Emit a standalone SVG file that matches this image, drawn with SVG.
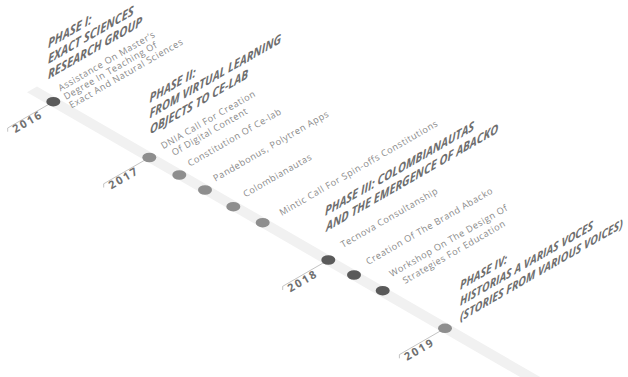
<svg xmlns="http://www.w3.org/2000/svg" width="628" height="377" viewBox="0 0 628 377">
<style>
  .band{fill:#f1f1f1}
  .title{font-family:"Open Sans",sans-serif;font-weight:700;font-style:italic;font-size:12.7px;fill:#6e6e6e}
  .big{font-size:13px}
  .sm{font-size:12.2px}
  .ev{font-family:"Open Sans",sans-serif;font-size:9.2px;letter-spacing:0.55px;fill:#8a8a8a}
  .yr{font-family:"Open Sans",sans-serif;font-weight:700;font-size:11px;letter-spacing:2px;fill:#707070}
  .dk{fill:#5a5a5a}
  .lt{fill:#8e8e8e}
  .lead{fill:none;stroke:#b4b4b4;stroke-width:0.8}
</style>
<rect width="628" height="377" fill="#ffffff"/>
<!-- isometric timeline band -->
<polygon class="band" points="37,86.5 600,411.5 600,423.1 27,92.3"/>

<g id="connectors">
  <path class="lead" d="M53.3,101.7 L7.7,128 L7.7,131.7"/>
  <path class="lead" d="M149.3,157.5 L103.7,183.8 L103.7,187.5"/>
  <path class="lead" d="M328.3,260 L282.7,286.3 L282.7,290"/>
  <path class="lead" d="M445,328.3 L399.4,354.6 L399.4,358.3"/>
</g>

<g id="year-2016">
  <ellipse class="dk" cx="53.3" cy="101.7" rx="7" ry="4.8"/>
  <text class="yr" transform="translate(15.3,133.2) rotate(-30)">2016</text>
</g>
<g id="year-2017">
  <ellipse class="lt" cx="149.3" cy="157.5" rx="7" ry="4.8"/>
  <text class="yr" transform="translate(111.3,189.5) rotate(-30)">2017</text>
</g>
<g id="year-2018">
  <ellipse class="dk" cx="328.3" cy="260" rx="7" ry="4.8"/>
  <text class="yr" transform="translate(290.3,292.5) rotate(-30)">2018</text>
</g>
<g id="year-2019">
  <ellipse class="lt" cx="445" cy="328.3" rx="7" ry="4.8"/>
  <text class="yr" transform="translate(407,361) rotate(-30)">2019</text>
</g>

<g id="phase-1">
  <text class="title big" transform="matrix(0.866,-0.5,0,1,48,48.5)">PHASE I:</text>
  <text class="title big" transform="matrix(0.866,-0.5,0,1,48,64)">EXACT SCIENCES</text>
  <text class="title big" transform="matrix(0.866,-0.5,0,1,48,79.5)">RESEARCH GROUP</text>
</g>
<g id="event-assistance">
  <text class="ev" transform="translate(60.5,91.5) rotate(-30)">Assistance On Master’s</text>
  <text class="ev" transform="translate(66,100) rotate(-30)">Degree In Teaching Of</text>
  <text class="ev" transform="translate(71.5,108.5) rotate(-30)">Exact And Natural Sciences</text>
</g>

<g id="phase-2">
  <text class="title" transform="matrix(0.866,-0.5,0,1,149.5,103)">PHASE II:</text>
  <text class="title" transform="matrix(0.866,-0.5,0,1,149.5,118.5)">FROM VIRTUAL LEARNING</text>
  <text class="title" transform="matrix(0.866,-0.5,0,1,150,134.5)">OBJECTS TO CE-LAB</text>
</g>
<g id="event-dnia">
  <ellipse class="lt" cx="179.3" cy="175" rx="7" ry="4.8"/>
  <text class="ev" transform="translate(163.3,149.3) rotate(-30)">DNIA Call For Creation</text>
  <text class="ev" transform="translate(174,156) rotate(-30)">Of Digital Content</text>
</g>
<g id="event-celab">
  <ellipse class="lt" cx="205" cy="190" rx="7" ry="4.8"/>
  <text class="ev" transform="translate(190,166.7) rotate(-30)">Constitution Of Ce-lab</text>
</g>
<g id="event-pandebonus">
  <ellipse class="lt" cx="233.3" cy="206.7" rx="7" ry="4.8"/>
  <text class="ev" transform="translate(215.5,181.7) rotate(-30)">Pandebonus, Polytren Apps</text>
</g>
<g id="event-colombianautas">
  <ellipse class="lt" cx="262.7" cy="222.7" rx="7" ry="4.8"/>
  <text class="ev" transform="translate(245.5,197.5) rotate(-30)">Colombianautas</text>
</g>
<g id="event-mintic">
  <text class="ev" transform="translate(281.7,216) rotate(-30)">Mintic Call For Spin-offs Constitutions</text>
</g>

<g id="phase-3">
  <text class="title" transform="matrix(0.866,-0.5,0,1,325,216)">PHASE III: COLOMBIANAUTAS</text>
  <text class="title" transform="matrix(0.866,-0.5,0,1,326,231.7)">AND THE EMERGENCE OF ABACKO</text>
</g>
<g id="event-tecnova">
  <text class="ev" transform="translate(343,248) rotate(-30)">Tecnova Consultanship</text>
</g>
<g id="event-abacko">
  <ellipse class="dk" cx="354" cy="275" rx="7" ry="4.8"/>
  <text class="ev" transform="translate(368.3,265) rotate(-30)">Creation Of The Brand Abacko</text>
</g>
<g id="event-workshop">
  <ellipse class="dk" cx="382.7" cy="290.7" rx="7" ry="4.8"/>
  <text class="ev" transform="translate(391.7,277.3) rotate(-30)">Workshop On The Design Of</text>
  <text class="ev" transform="translate(405,284) rotate(-30)">Strategies For Education</text>
</g>

<g id="phase-4">
  <text class="title sm" transform="matrix(0.866,-0.5,0,1,460,290)">PHASE IV:</text>
  <text class="title sm" transform="matrix(0.866,-0.5,0,1,460,306)">HISTORIAS A VARIAS VOCES</text>
  <text class="title sm" transform="matrix(0.866,-0.5,0,1,460,321.5)">(STORIES FROM VARIOUS VOICES)</text>
</g>
</svg>
